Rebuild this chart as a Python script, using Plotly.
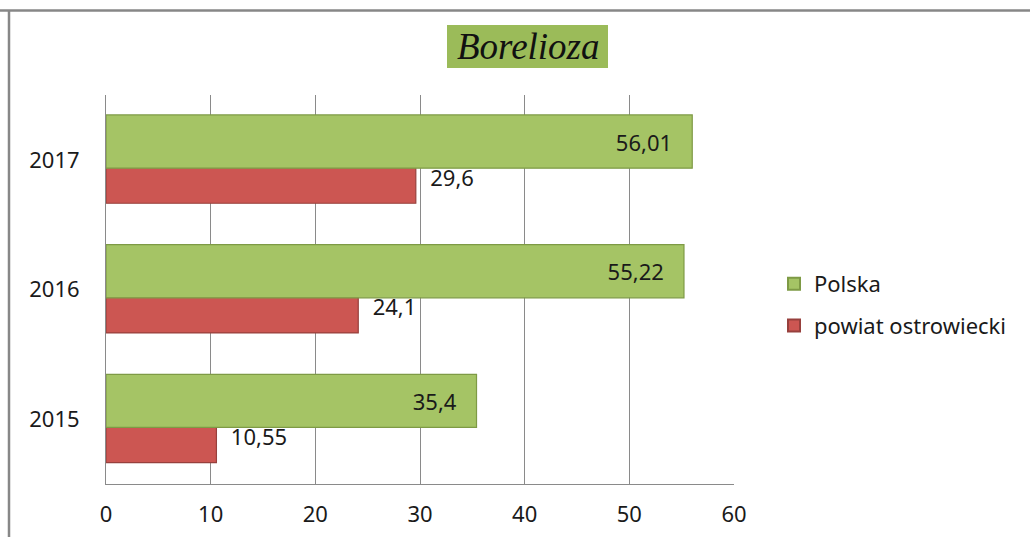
import plotly.graph_objects as go

# Borelioza incidence per year
years = ["2015", "2016", "2017"]
polska = [35.4, 55.22, 56.01]
powiat = [10.55, 24.1, 29.6]
x_ticks = [0, 10, 20, 30, 40, 50, 60]

NB = "\u00a0"


def pl(v):
    return str(v).replace(".", ",")


GREEN = "#A5C465"
GREEN_EDGE = "#7E9A45"
RED = "#CC5652"
RED_EDGE = "#97403D"
GRID = "#8A8A8A"
FONT = "Noto Sans"
FS = 22

W, H = 1030, 537
L, R, T, B = 106, 296, 95, 53
pw, ph = W - L - R, H - T - B


def px_x(x):
    return (x - L) / pw


def px_y(y):
    return (H - B - y) / ph


fig = go.Figure()

fig.add_trace(go.Bar(
    y=years, x=powiat, orientation="h", name="powiat ostrowiecki",
    legendgroup="powiat", legendrank=2,
    width=0.41, offset=-0.335,
    marker=dict(color=RED, line=dict(color=RED_EDGE, width=1.2)),
    text=[NB * 2 + pl(v) for v in powiat], textposition="outside",
    textfont=dict(family=FONT, size=FS, color="#1a1a1a"),
    cliponaxis=False,
))

fig.add_trace(go.Bar(
    y=years, x=polska, orientation="h", name="Polska",
    legendgroup="polska", legendrank=1,
    width=0.41, offset=-0.064,
    marker=dict(color=GREEN, line=dict(color=GREEN_EDGE, width=1.2)),
    text=[pl(v) + NB * 3 for v in polska], textposition="inside",
    insidetextanchor="end",
    textfont=dict(family=FONT, size=FS, color="#1a1a1a"),
))

shapes = [
    # outer frame (top and left edges)
    dict(type="line", xref="paper", yref="paper",
         x0=px_x(0), x1=px_x(W), y0=px_y(10.5), y1=px_y(10.5),
         line=dict(color="#878787", width=2.5)),
    dict(type="line", xref="paper", yref="paper",
         x0=px_x(9), x1=px_x(9), y0=px_y(10), y1=px_y(H),
         line=dict(color="#878787", width=2.5)),
    # title box
    dict(type="rect", xref="paper", yref="paper",
         x0=px_x(447), x1=px_x(608), y0=px_y(68), y1=px_y(25),
         fillcolor="#9BBB59", line=dict(width=0), layer="below"),
]

fig.update_layout(
    width=W, height=H,
    margin=dict(l=L, r=R, t=T, b=B, pad=0, autoexpand=False),
    paper_bgcolor="white", plot_bgcolor="white",
    barmode="overlay",
    showlegend=True,
    legend=dict(
        x=px_x(774), y=px_y(263), xanchor="left", yanchor="top",
        font=dict(family=FONT, size=FS, color="#1a1a1a"),
        traceorder="grouped", itemsizing="constant",
        itemwidth=30, tracegroupgap=10, bgcolor="rgba(0,0,0,0)",
    ),
    xaxis=dict(
        range=[0, 60], tickvals=x_ticks, ticktext=[str(t) for t in x_ticks],
        showgrid=True, gridcolor=GRID, gridwidth=1,
        showline=True, linecolor=GRID, linewidth=1,
        zeroline=False, ticks="", ticklen=0, ticklabelstandoff=11,
        tickfont=dict(family=FONT, size=FS, color="#1a1a1a"),
        automargin=False, fixedrange=True,
    ),
    yaxis=dict(
        type="category", categoryorder="array", categoryarray=years,
        range=[-0.5, 2.5],
        showgrid=False, showline=True, linecolor=GRID, linewidth=1,
        ticks="", ticklabelstandoff=21,
        tickfont=dict(family=FONT, size=FS, color="#1a1a1a"),
        automargin=False, fixedrange=True,
    ),
    shapes=shapes,
    annotations=[dict(
        text="Borelioza", xref="paper", yref="paper",
        x=px_x(528), y=px_y(47), xanchor="center", yanchor="middle",
        showarrow=False,
        font=dict(family="Liberation Serif", size=37, color="#111111", style="italic"),
    )],
)

fig.write_html("out.html")
